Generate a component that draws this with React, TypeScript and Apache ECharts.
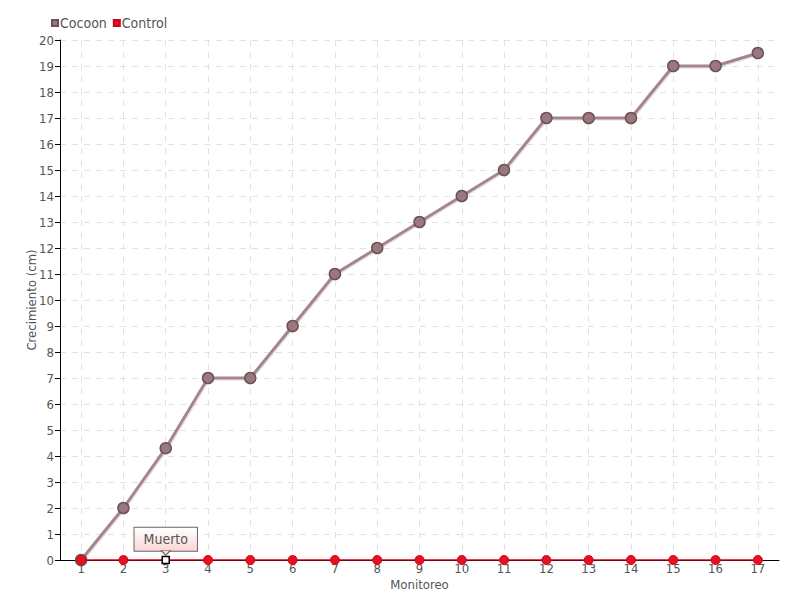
import React, { useEffect, useRef } from "react";
import * as echarts from "echarts";

const categories = ["1", "2", "3", "4", "5", "6", "7", "8", "9", "10", "11", "12", "13", "14", "15", "16", "17"];
const cocoonValues = [0, 2, 4.3, 7, 7, 9, 11, 12, 13, 14, 15, 17, 17, 17, 19, 19, 19.5];
const controlValues = [0, 0, 0, 0, 0, 0, 0, 0, 0, 0, 0, 0, 0, 0, 0, 0, 0];
const deadIndex = 2;
const deadLabel = "Muerto";

const FONT = '"DejaVu Sans Condensed", "Liberation Sans Narrow", sans-serif';
const TEXT = "#555";

export default function App() {
  const ref = useRef<HTMLDivElement>(null);
  useEffect(() => {
    if (!ref.current) return;
    const chart = echarts.init(ref.current, undefined, { renderer: "svg" });
    const controlData = controlValues.map((v, i) =>
      i === deadIndex
        ? {
            value: v,
            symbol: "rect",
            symbolSize: 7,
            itemStyle: { color: "#fff", borderColor: "#000", borderWidth: 1.5 },
            label: {
              show: true,
              position: "top",
              distance: 5,
              formatter: deadLabel,
              fontFamily: FONT,
              fontSize: 14,
              color: "#555",
              padding: [4, 9, 5, 9],
              borderColor: "#666",
              borderWidth: 1,
              backgroundColor: {
                type: "linear",
                x: 0,
                y: 0,
                x2: 0,
                y2: 1,
                colorStops: [
                  { offset: 0, color: "#ffffff" },
                  { offset: 1, color: "#fbd6d6" },
                ],
              },
            },
          }
        : v
    );
    chart.setOption({
      animation: false,
      textStyle: { fontFamily: FONT },
      legend: {
        left: 46,
        top: 11,
        icon: "rect",
        itemWidth: 6,
        itemHeight: 6,
        itemGap: 6,
        textStyle: { fontFamily: FONT, fontSize: 14, color: TEXT, padding: [0, 0, 0, -3] },
        data: ["Cocoon", "Control"],
      },
      grid: { left: 60, right: 21, top: 40, bottom: 40 },
      xAxis: {
        type: "category",
        data: categories,
        boundaryGap: true,
        name: "Monitoreo",
        nameLocation: "middle",
        nameGap: 18,
        nameMoveOverlap: false,
        nameTextStyle: { fontFamily: FONT, fontSize: 13, color: TEXT },
        axisLine: { lineStyle: { color: "#000", width: 1 } },
        axisTick: { show: true, alignWithLabel: true, length: 3, lineStyle: { color: "#888" } },
        axisLabel: { interval: 0, fontFamily: FONT, fontSize: 13, color: TEXT, margin: 2 },
        splitLine: {
          show: true,
          interval: 0,
          alignWithLabel: true,
          lineStyle: { color: "#e2e2e2", type: [6, 6], width: 1 },
        },
      },
      yAxis: {
        type: "value",
        min: 0,
        max: 20,
        interval: 1,
        name: "Crecimiento (cm)",
        nameLocation: "middle",
        nameGap: 22,
        nameMoveOverlap: false,
        nameTextStyle: { fontFamily: FONT, fontSize: 13, color: TEXT },
        axisLine: { show: true, lineStyle: { color: "#000", width: 1 } },
        axisTick: { show: true, length: 5, lineStyle: { color: "#000" } },
        axisLabel: { fontFamily: FONT, fontSize: 13, color: TEXT, margin: 6 },
        splitLine: { show: true, lineStyle: { color: "#e2e2e2", type: [6, 6], width: 1 } },
      },
      series: [
        {
          name: "Cocoon",
          type: "line",
          data: cocoonValues,
          symbol: "circle",
          symbolSize: 11,
          color: "#a38389",
          lineStyle: {
            color: "#a58589",
            width: 3,
            shadowColor: "rgba(0,0,0,0.12)",
            shadowOffsetX: 1,
            shadowOffsetY: 1,
            shadowBlur: 1,
          },
          itemStyle: { color: "#9a7880", borderColor: "#6f5258", borderWidth: 1.5 },
          z: 2,
        },
        {
          name: "Control",
          type: "line",
          data: controlData,
          symbol: "circle",
          symbolSize: 9,
          color: "#e8101e",
          lineStyle: { color: "#e3001b", width: 1.5 },
          itemStyle: { color: "#e8101e", borderColor: "#c8081a", borderWidth: 1 },
          z: 3,
          markPoint: {
            symbol: "path://M0,0L10,0L5,6Z",
            symbolSize: [9, 5],
            symbolOffset: [0, -7],
            silent: true,
            label: { show: false },
            itemStyle: { color: "#fbd8d8", borderColor: "#666", borderWidth: 1 },
            data: [{ coord: [deadIndex, 0] }],
            z: 10,
          },
        },
      ],
    });
    return () => chart.dispose();
  }, []);
  return <div ref={ref} style={{ width: 800, height: 600, position: "absolute", left: 0, top: 0 }} />;
}
